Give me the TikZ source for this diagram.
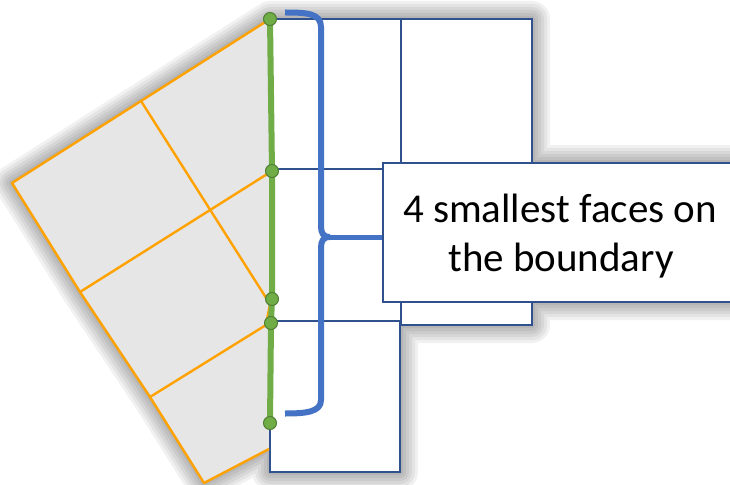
\documentclass[tikz,border=0pt]{standalone}
\usepackage{fontspec}
\setmainfont{Carlito}
\definecolor{gridblue}{HTML}{2F528F}
\definecolor{braceblue}{HTML}{4472C4}
\definecolor{facegray}{HTML}{E6E6E6}
\definecolor{edgeorange}{RGB}{255,162,0}
\definecolor{pathgreen}{HTML}{70AD47}
\definecolor{dotedge}{HTML}{507E32}
\tikzset{
  glow/.style={draw=black, line join=round, draw opacity=0.055},
  cellbox/.style={draw=gridblue, fill=white, line width=2pt},
  facefill/.style={fill=facegray},
  faceedge/.style={draw=edgeorange, line width=2.4pt, line join=round},
  greenpath/.style={draw=pathgreen, line width=6pt, line join=round},
  vdot/.style={circle, fill=pathgreen, draw=dotedge, line width=1pt, minimum size=13pt, inner sep=0pt},
  bracestyle/.style={draw=braceblue, line width=6pt, line cap=butt, line join=round},
  labelbox/.style={draw=gridblue, fill=white, line width=2pt},
  labeltext/.style={font=\fontsize{41}{49}\selectfont, anchor=base, inner sep=0pt}
}
\begin{document}
\begin{tikzpicture}[x=1pt,y=-1pt]
\useasboundingbox (0,0) rectangle (730,484);
\clip (0,0) rectangle (730,484);
% glows
\foreach \w in {36,30,24,18,12,6}{
  \path[glow, line width=\w pt]
    (270,19) -- (12,183) -- (80,292) -- (150,397) -- (204,483) -- (269,449) -- cycle
    (270,19) -- (532,19) -- (532,325) -- (400,325) -- (400,472) -- (270,472) -- cycle
    (383,163) rectangle (760,302);
}
% left faces
\path[facefill] (270,19) -- (12,183) -- (80,292) -- (150,397) -- (204,483) -- (269,449) -- (269,325) -- (266,325) -- (269,304) -- cycle;
% right grid
\path[cellbox] (270,19) rectangle (401,169);
\path[cellbox] (401,19) rectangle (532,169);
\path[cellbox] (270,169) rectangle (401,321);
\path[cellbox] (401,169) rectangle (532,325);
\path[cellbox] (270,321) rectangle (400,472);
% orange edges
\path[faceedge] (270,19) -- (12,183) -- (80,292) -- (150,397) -- (204,483) -- (269,449);
\path[faceedge] (141,101) -- (270,304) -- (266,325) -- (150,397);
\path[faceedge] (272,171) -- (80,292);
% green boundary path
\coordinate (g1) at (270,19);
\coordinate (g2) at (272,171);
\coordinate (g3) at (272,299);
\coordinate (g4) at (271,323);
\coordinate (g5) at (270,423);
\path[greenpath] (g1) -- (g2) -- (g3) -- (g4) -- (g5);
\foreach \i in {1,...,5}{ \node[vdot] (d\i) at (g\i) {}; }
% brace
\path[bracestyle] (285,12.5) .. controls (306,12.5) and (321,13) .. (321,27) -- (321,226) .. controls (321,233) and (323,237) .. (330,237);
\path[bracestyle] (285,413.5) .. controls (306,413.5) and (321,412) .. (321,400) -- (321,248) .. controls (321,241) and (323,237) .. (330,237);
\path[draw=braceblue, line width=5pt] (328,237) -- (385,237);
% label
\path[labelbox] (383,163) rectangle (760,302);
\node[labeltext] (l1) at (560,222) {4 smallest faces on};
\node[labeltext] (l2) at (561,271) {the boundary};
\end{tikzpicture}
\end{document}
